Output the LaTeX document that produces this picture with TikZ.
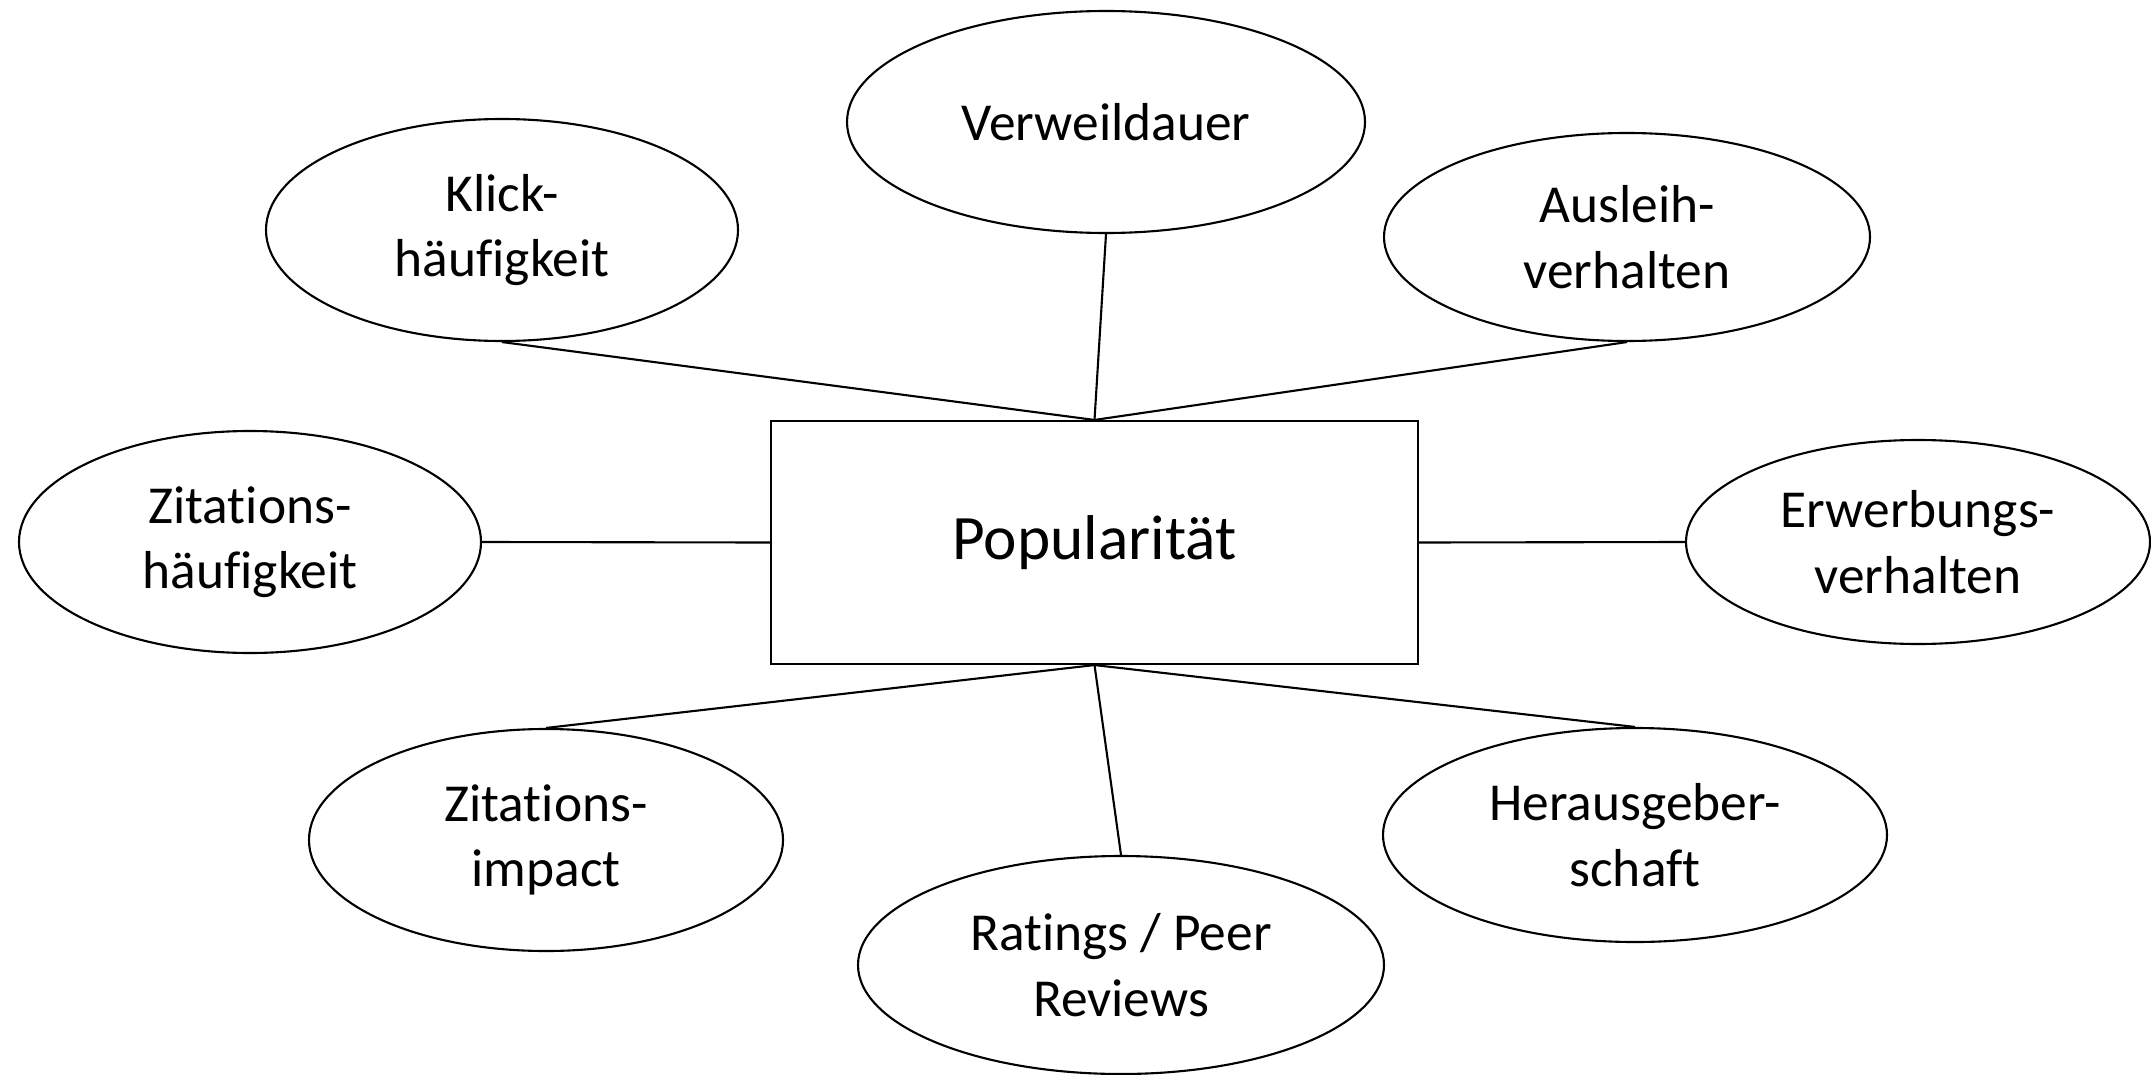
\documentclass[tikz,border=0pt]{standalone}
\usepackage{fontspec}
\setmainfont{Carlito}[Ligatures=NoCommon]
\usetikzlibrary{shapes.geometric}
\begin{document}
\begin{tikzpicture}[line width=0.6pt,
  feld/.style={ellipse,draw,inner sep=0pt,align=center,font=\fontsize{15.2}{18.6}\selectfont},
  kern/.style={rectangle,draw,inner sep=0pt,minimum width=6.47cm,minimum height=2.43cm,font=\fontsize{18}{22}\selectfont}]
  \useasboundingbox (0,0) rectangle (21.51,-10.74);
  \node[kern] (pop) at (10.945,-5.425) {Popularität};
  \node[feld,minimum width=5.18cm,minimum height=2.22cm] (verweil) at (11.06,-1.22) {Verweildauer};
  \node[feld,minimum width=4.72cm,minimum height=2.22cm] (klick) at (5.02,-2.30) {Klick-\\häufigkeit};
  \node[feld,minimum width=4.86cm,minimum height=2.08cm] (ausleih) at (16.27,-2.37) {Ausleih-\\verhalten};
  \node[feld,minimum width=4.62cm,minimum height=2.22cm] (zithaeuf) at (2.50,-5.42) {Zitations-\\häufigkeit};
  \node[feld,minimum width=4.64cm,minimum height=2.04cm] (erwerb) at (19.18,-5.42) {Erwerbungs-\\verhalten};
  \node[feld,minimum width=4.74cm,minimum height=2.22cm] (zitimpact) at (5.46,-8.40) {Zitations-\\impact};
  \node[feld,minimum width=5.26cm,minimum height=2.18cm] (ratings) at (11.21,-9.65) {Ratings / Peer\\Reviews};
  \node[feld,minimum width=5.04cm,minimum height=2.14cm] (heraus) at (16.35,-8.35) {Herausgeber-\\schaft};
  % Verbindungen
  \draw (pop.north) -- (klick.south);
  \draw (pop.north) -- (verweil.south);
  \draw (pop.north) -- (ausleih.south);
  \draw (zithaeuf.east) -- (pop.west);
  \draw (pop.east) -- (erwerb.west);
  \draw (pop.south) -- (zitimpact.north);
  \draw (pop.south) -- (ratings.north);
  \draw (pop.south) -- (heraus.north);
\end{tikzpicture}
\end{document}
